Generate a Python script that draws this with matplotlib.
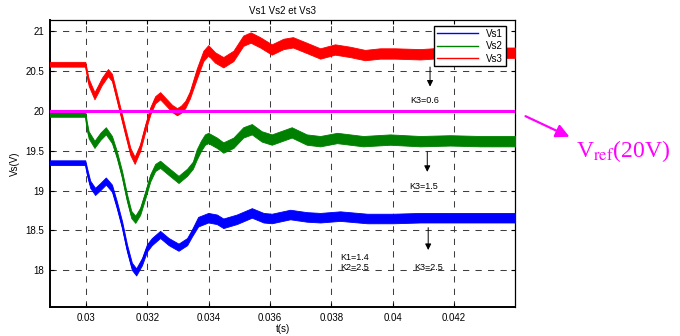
import numpy as np
import matplotlib.pyplot as plt

plt.rcParams['font.family'] = ['Liberation Sans', 'DejaVu Sans']
plt.rcParams['mathtext.fontset'] = 'stix'

# Vs3 (red): time (s) and band centre (V)
t3 = [0.02880, 0.02998, 0.03009, 0.03028, 0.03039, 0.03052, 0.03072, 0.03085,
      0.03096, 0.03112, 0.03128, 0.03145, 0.03159, 0.03177, 0.03194, 0.03210,
      0.03226, 0.03242, 0.03264, 0.03281, 0.03297, 0.03310, 0.03324, 0.03339,
      0.03361, 0.03383, 0.03399, 0.03421, 0.03448, 0.03481, 0.03513, 0.03537,
      0.03568, 0.03606, 0.03644, 0.03675, 0.03720, 0.03764, 0.03812, 0.03861,
      0.03910, 0.03959, 0.04008, 0.04090, 0.04171, 0.04253, 0.04318, 0.04400]
vs3 = [20.585, 20.585, 20.36, 20.19, 20.27, 20.37, 20.48, 20.42,
       20.25, 20.00, 19.75, 19.49, 19.38, 19.54, 19.79, 20.00,
       20.14, 20.19, 20.10, 20.03, 19.99, 20.02, 20.08, 20.20,
       20.46, 20.69, 20.76, 20.67, 20.61, 20.69, 20.88, 20.92,
       20.86, 20.77, 20.84, 20.86, 20.79, 20.72, 20.77, 20.74,
       20.70, 20.72, 20.72, 20.71, 20.73, 20.72, 20.73, 20.73]

# Vs2 (green)
t2 = [0.02880, 0.02998, 0.03003, 0.03009, 0.03028, 0.03047, 0.03065, 0.03085,
      0.03101, 0.03118, 0.03134, 0.03148, 0.03161, 0.03177, 0.03194, 0.03210,
      0.03226, 0.03242, 0.03270, 0.03302, 0.03330, 0.03349, 0.03361, 0.03375,
      0.03388, 0.03399, 0.03427, 0.03448, 0.03481, 0.03513, 0.03541, 0.03573,
      0.03606, 0.03671, 0.03720, 0.03764, 0.03819, 0.03904, 0.03992, 0.04090,
      0.04188, 0.04286, 0.04400]
vs2 = [19.956, 19.956, 19.82, 19.70, 19.58, 19.68, 19.75, 19.64,
       19.45, 19.20, 18.91, 18.70, 18.64, 18.74, 18.95, 19.16,
       19.29, 19.33, 19.24, 19.14, 19.23, 19.32, 19.45, 19.56,
       19.64, 19.66, 19.60, 19.54, 19.60, 19.73, 19.77, 19.68,
       19.64, 19.73, 19.64, 19.62, 19.66, 19.62, 19.64, 19.62,
       19.63, 19.62, 19.62]

# Vs1 (blue)
t1 = [0.02880, 0.02998, 0.03003, 0.03014, 0.03030, 0.03047, 0.03065, 0.03085,
      0.03101, 0.03118, 0.03134, 0.03150, 0.03164, 0.03183, 0.03199, 0.03215,
      0.03242, 0.03270, 0.03302, 0.03330, 0.03346, 0.03366, 0.03399, 0.03427,
      0.03448, 0.03492, 0.03541, 0.03579, 0.03606, 0.03666, 0.03720, 0.03764,
      0.03829, 0.03917, 0.04002, 0.04090, 0.04188, 0.04286, 0.04400]
vs1 = [19.35, 19.35, 19.25, 19.08, 18.99, 19.05, 19.12, 19.03,
       18.82, 18.57, 18.28, 18.05, 17.98, 18.11, 18.28, 18.36,
       18.45, 18.36, 18.29, 18.36, 18.47, 18.61, 18.66, 18.64,
       18.59, 18.64, 18.72, 18.66, 18.65, 18.70, 18.67, 18.66,
       18.68, 18.65, 18.65, 18.66, 18.66, 18.66, 18.66]

# ripple half height (V): before step, transient, steady state
ripple_edges = [0.0300, 0.0335]
ripple = {'Vs1': [0.03, 0.045, 0.06], 'Vs2': [0.03, 0.045, 0.065], 'Vs3': [0.03, 0.045, 0.065]}

vref = 20.0
xticks = [0.03, 0.032, 0.034, 0.036, 0.038, 0.04, 0.042]
xlabels = ['0.03', '0.032', '0.034', '0.036', '0.038', '0.04', '0.042']
yticks = [18, 18.5, 19, 19.5, 20, 20.5, 21]
ylabels = ['18', '18.5', '19', '19.5', '20', '20.5', '21']

fig = plt.figure(figsize=(6.8, 3.36), dpi=100)
ax = fig.add_axes([50 / 680, 1 - 307 / 336, 465 / 680, 287 / 336])

series = [('Vs1', t1, vs1, '#0000ff'), ('Vs2', t2, vs2, '#008000'), ('Vs3', t3, vs3, '#ff0000')]
for name, t, v, c in series:
    t = np.array(t)
    v = np.array(v)
    r = ripple[name]
    h = np.select([t < ripple_edges[0], t < ripple_edges[1]], [r[0], r[1]], r[2])
    ax.fill_between(t, v - h, v + h, color=c, lw=0.6, edgecolor=c, zorder=3)
    ax.plot(t, v, color=c, lw=1.0, label=name, zorder=3)

ax.axhline(vref, color='#ff00ff', lw=2.2, zorder=4)

ax.set_xlim(0.02883, 0.04399)
ax.set_ylim(17.54, 21.14)
ax.set_xticks(xticks)
ax.set_xticklabels(xlabels)
ax.set_yticks(yticks)
ax.set_yticklabels(ylabels)
ax.tick_params(direction='in', top=True, right=True, length=3, labelsize=7, pad=4)
ax.grid(True, color='0.25', lw=0.75, linestyle=(0, (6, 6)))
for s in ax.spines.values():
    s.set_linewidth(0.9)
ax.spines['left'].set_linewidth(1.4)
ax.spines['bottom'].set_linewidth(1.4)

ax.set_title('Vs1 Vs2 et Vs3', fontsize=7, pad=4)
ax.set_xlabel('t(s)', fontsize=7, labelpad=1)
ax.set_ylabel('Vs(V)', fontsize=7, labelpad=4)

leg = ax.legend(loc='upper right', bbox_to_anchor=(0.98, 0.98), borderaxespad=0,
                fontsize=7, fancybox=False, framealpha=1, edgecolor='k',
                handlelength=4.2, labelspacing=0.25, borderpad=0.3)
leg.get_frame().set_linewidth(1.0)
leg.set_zorder(6)

arrow = dict(arrowstyle='-|>', color='k', lw=0.7, mutation_scale=9)
ax.annotate('', xy=(0.04122, 20.27), xytext=(0.04122, 20.585), arrowprops=arrow, zorder=5)
ax.text(0.04106, 20.13, 'K3=0.6', fontsize=6.5, ha='center', va='center', zorder=5)
ax.annotate('', xy=(0.04113, 19.20), xytext=(0.04113, 19.52), arrowprops=arrow, zorder=5)
ax.text(0.04100, 19.05, 'K3=1.5', fontsize=6.5, ha='center', va='center', zorder=5)
ax.annotate('', xy=(0.04116, 18.22), xytext=(0.04116, 18.57), arrowprops=arrow, zorder=5)
ax.text(0.04116, 18.04, 'K3=2.5', fontsize=6.5, ha='center', va='center', zorder=5)
ax.text(0.03829, 18.16, 'K1=1.4', fontsize=6.5, ha='left', va='center', zorder=5)
ax.text(0.03829, 18.03, 'K2=2.5', fontsize=6.5, ha='left', va='center', zorder=5)

fig.patches.append(plt.matplotlib.patches.FancyArrowPatch(
    (523 / 680, 1 - 115 / 336), (572 / 680, 1 - 138 / 336), transform=fig.transFigure,
    arrowstyle='-|>', color='#ff00ff', lw=1.6, mutation_scale=20))
fig.text(576 / 680, 1 - 157 / 336, 'V$_{\\mathrm{ref}}$(20V)', color='#ff00ff',
         fontsize=17, family='Liberation Serif', ha='left', va='baseline')

fig.savefig('out.png', dpi=100)
